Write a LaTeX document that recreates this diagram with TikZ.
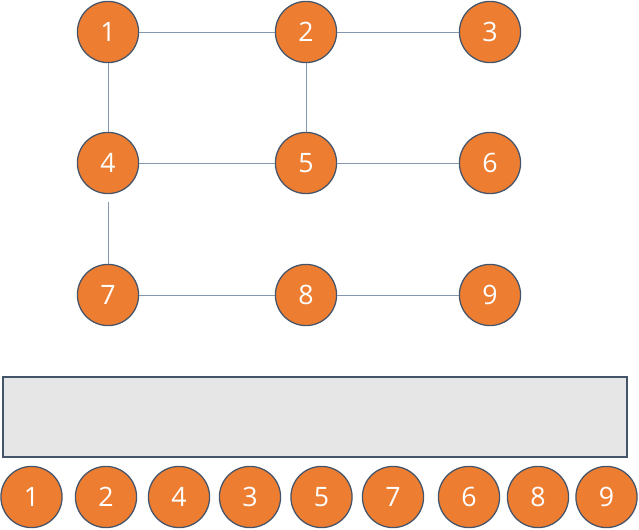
\documentclass[tikz,border=0pt]{standalone}
\usepackage{fontspec}
\setmainfont{Open Sans}
\usepackage{xcolor}
\usepackage{tikz}
\usetikzlibrary{positioning,calc}
\definecolor{gborder}{RGB}{68,84,106}

\begin{document}
\begin{tikzpicture}[x=0.025cm, y=-0.025cm]
					\definecolor{gorange}{RGB}{237,125,49}
					\definecolor{gedgecol}{RGB}{132,151,176}
					\definecolor{gqueue}{RGB}{231,230,230}
					\tikzset{
						gnode/.style={
							shape=circle,
							draw=gborder,
							line width=0.9pt,
							fill=gorange,
							minimum size=43.5pt,
							inner sep=0pt,
							font=\fontsize{19}{22}\selectfont,
							text=white
						},
						gedge/.style={draw=gedgecol,line width=0.6pt},
						gqueuebox/.style={draw=gborder,fill=gqueue,line width=0.8pt}
					}
					\useasboundingbox (0,0) rectangle (639,530);
					
					% graph
					\node[gnode] (n1) at (108,32) {1};
					\node[gnode] (n2) at (306,32) {2};
					\node[gnode] (n3) at (490,32) {3};
					\node[gnode] (n4) at (108,163) {4};
					\node[gnode] (n5) at (306,163) {5};
					\node[gnode] (n6) at (490,163) {6};
					\node[gnode] (n7) at (108,295) {7};
					\node[gnode] (n8) at (306,295) {8};
					\node[gnode] (n9) at (490,295) {9};
					\coordinate (c47) at (108,202);
					
					\draw[gedge] (n1) -- (n2);
					\draw[gedge] (n2) -- (n3);
					\draw[gedge] (n1) -- (n4);
					\draw[gedge] (n2) -- (n5);
					\draw[gedge] (n4) -- (n5);
					\draw[gedge] (n5) -- (n6);
					\draw[gedge] (c47) -- (n7);
					\draw[gedge] (n7) -- (n8);
					\draw[gedge] (n8) -- (n9);
					
					% queue
					\node[gqueuebox, minimum width=624*0.025cm, minimum height=80*0.025cm, inner sep=0pt] (queue) at (315,417) {};
					
					% visiting order
					\node[gnode] (o1) at (31.5,497) {1};
					\node[gnode] (o2) at (106,497) {2};
					\node[gnode] (o3) at (179,497) {4};
					\node[gnode] (o4) at (250,497) {3};
					\node[gnode] (o5) at (321.5,497) {5};
					\node[gnode] (o6) at (393,497) {7};
					\node[gnode] (o7) at (469,497) {6};
					\node[gnode] (o8) at (538,497) {8};
					\node[gnode] (o9) at (606.5,497) {9};
				\end{tikzpicture}
\end{document}
